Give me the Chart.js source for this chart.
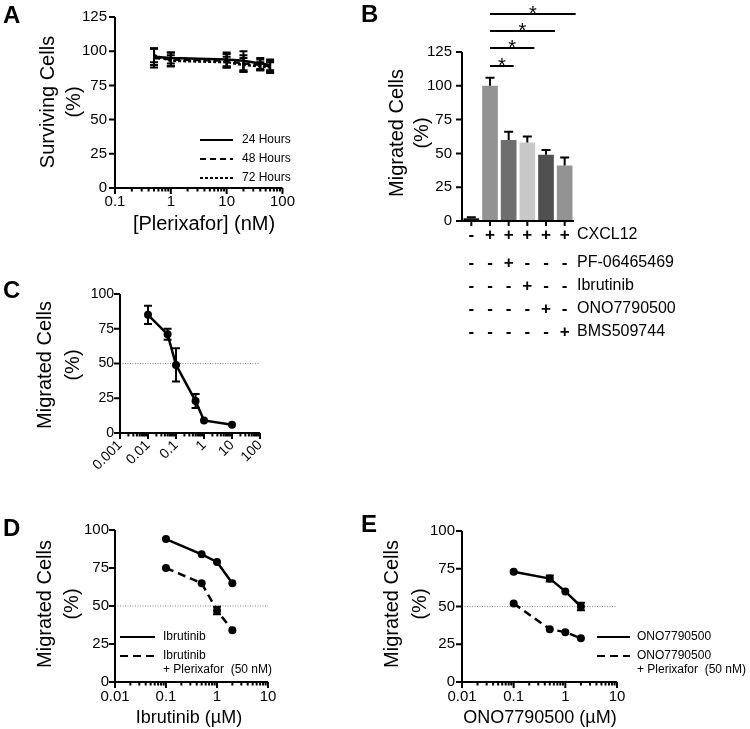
<!DOCTYPE html>
<html>
<head>
<meta charset="utf-8">
<script src="https://cdn.jsdelivr.net/npm/chart.js@4.4.1/dist/chart.umd.min.js"></script>
<style>
  body { margin: 0; background: #fff; }
  #fig { position: relative; width: 750px; height: 729px; background: #fff; overflow: hidden; }
  #fig canvas { position: absolute; }
  .tag { position: absolute; font: bold 24px 'Liberation Sans', Arial, sans-serif; line-height: 24px; color: #000; }
</style>
</head>
<body>
<div id="fig">
  <canvas id="chartA" width="300" height="245" style="left:0;top:0"></canvas>
  <canvas id="chartB" width="370" height="345" style="left:380px;top:0"></canvas>
  <canvas id="chartC" width="330" height="220" style="left:0;top:270px"></canvas>
  <canvas id="chartD" width="370" height="214" style="left:0;top:515px"></canvas>
  <canvas id="chartE" width="380" height="214" style="left:370px;top:515px"></canvas>
  <div class="tag" style="left:3px;top:3px">A</div>
  <div class="tag" style="left:361px;top:2px">B</div>
  <div class="tag" style="left:3px;top:278px">C</div>
  <div class="tag" style="left:3px;top:516px">D</div>
  <div class="tag" style="left:361px;top:512px">E</div>
</div>
<script>
// A - viability under plerixafor
const plerixaforDose = [0.5, 1, 10, 20, 40, 60];
const survival24 = [96, 95, 94, 93, 91, 90];
const survival24Err = [6, 4, 5, 7, 4, 4];
const survival48 = [95, 94, 93, 91, 90, 89];
const survival48Err = [7, 5, 5, 6, 4, 4];
const survival72 = [97, 93, 92, 90, 89, 88];
const survival72Err = [5, 4, 4, 5, 3, 4];

// B - migration with inhibitors
const migrationGroups = ['none', 'CXCL12', 'PF', 'Ibr', 'ONO', 'BMS'];
const migrationMean = [2, 100, 60, 58, 49, 41];
const migrationErr = [0.8, 6, 6, 4.5, 3.5, 6];
const treatmentNames = ['CXCL12', 'PF-06465469', 'Ibrutinib', 'ONO7790500', 'BMS509744'];
const treatmentSigns = [
  ['-', '+', '+', '+', '+', '+'],
  ['-', '-', '+', '-', '-', '-'],
  ['-', '-', '-', '+', '-', '-'],
  ['-', '-', '-', '-', '+', '-'],
  ['-', '-', '-', '-', '-', '+']
];
const significantPairs = [[1, 2], [1, 3], [1, 4], [1, 5]];

// C - plerixafor dose response
const doseC = [0.01, 0.05, 0.1, 0.5, 1, 10];
const migratedC = [85, 71, 49, 23, 9, 6];
const migratedCErr = [6.5, 4, 12, 5, 0, 0];

// D - ibrutinib +/- plerixafor
const ibrutinibDose = [0.1, 0.5, 1, 2];
const ibrutinibAlone = [94, 84, 79, 65];
const ibrutinibPlx = [75, 65, 47, 34];
const ibrutinibPlxErr = [0, 0, 2.5, 0];

// E - ONO7790500 +/- plerixafor
const onoDose = [0.1, 0.5, 1, 2];
const onoAlone = [73, 68.5, 60, 50];
const onoAloneErr = [0, 2, 0, 2.5];
const onoPlx = [52, 35, 33, 29];

// tick labels
const yTicks125 = [0, 25, 50, 75, 100, 125];
const yTicks100 = [0, 25, 50, 75, 100];
const xLabelsA = [0.1, 1, 10, 100];
const xLabelsC = [0.001, 0.01, 0.1, 1, 10, 100];
const xLabelsDE = [0.01, 0.1, 1, 10];

const FAMILY = "'Liberation Sans', Arial, Helvetica, sans-serif";
Chart.defaults.font.family = FAMILY;
Chart.defaults.color = '#000';

const pts = (xs, ys) => xs.map((x, i) => ({ x, y: ys[i] }));
const isDecade = v => Math.abs(Math.log10(v) - Math.round(Math.log10(v))) < 1e-9;

function logTicks(min, max) {
  const out = [];
  for (let e = Math.round(Math.log10(min)); e < Math.round(Math.log10(max)); e++) {
    for (let k = 1; k < 10; k++) out.push(+(k * Math.pow(10, e)).toPrecision(6));
  }
  out.push(max);
  return out;
}

function xLog(labels, area, h, size, pad, rot) {
  const min = labels[0], max = labels[labels.length - 1];
  return {
    type: 'logarithmic', min, max,
    grid: { display: false, drawTicks: false }, border: { display: false },
    ticks: {
      autoSkip: false, minRotation: rot || 0, maxRotation: rot || 0, padding: pad,
      font: { size }, color: '#000',
      callback: v => labels.some(l => Math.abs(l - v) / l < 1e-6) ? String(v) : ''
    },
    afterBuildTicks: s => { s.ticks = logTicks(min, max).map(value => ({ value })); },
    afterFit: s => { s.height = h - area.bottom; }
  };
}

function yLin(ticks, area, size, pad) {
  return {
    type: 'linear', min: ticks[0], max: ticks[ticks.length - 1],
    grid: { display: false, drawTicks: false }, border: { display: false },
    ticks: { padding: pad, font: { size }, color: '#000', autoSkip: false },
    afterBuildTicks: s => { s.ticks = ticks.map(value => ({ value })); },
    afterFit: s => { s.width = area.left; }
  };
}

// axes, error bars, titles, legends, table
const figure = {
  id: 'figure',
  beforeDatasetsDraw(chart, args, o) {
    if (o.refLine == null) return;
    const { ctx, chartArea: a, scales: { y } } = chart;
    const py = y.getPixelForValue(o.refLine);
    ctx.save();
    ctx.strokeStyle = '#8a8a8a'; ctx.lineWidth = 1; ctx.setLineDash([1, 1.5]);
    ctx.beginPath(); ctx.moveTo(a.left, py); ctx.lineTo(a.right, py); ctx.stroke();
    ctx.restore();
  },
  afterDatasetsDraw(chart, args, o) {
    const { ctx, chartArea: a, scales: { x, y } } = chart;
    ctx.save();
    ctx.strokeStyle = '#000'; ctx.lineWidth = 2;
    chart.data.datasets.forEach((ds, i) => {
      if (!ds.errors) return;
      const meta = chart.getDatasetMeta(i);
      meta.data.forEach((el, j) => {
        const e = ds.errors[j];
        if (!e) return;
        const v = meta.controller.getParsed(j).y;
        const top = y.getPixelForValue(v + e);
        const bot = y.getPixelForValue(ds.errorUpOnly ? v : v - e);
        const w = ds.capHalf || 4;
        ctx.beginPath();
        ctx.moveTo(el.x, top); ctx.lineTo(el.x, bot);
        ctx.moveTo(el.x - w, top); ctx.lineTo(el.x + w, top);
        if (!ds.errorUpOnly) { ctx.moveTo(el.x - w, bot); ctx.lineTo(el.x + w, bot); }
        ctx.stroke();
      });
    });
    // axis lines
    ctx.beginPath();
    ctx.moveTo(a.left, a.top); ctx.lineTo(a.left, a.bottom); ctx.lineTo(a.right, a.bottom);
    ctx.stroke();
    // y ticks
    ctx.beginPath();
    y.ticks.forEach(t => {
      const py = y.getPixelForValue(t.value);
      ctx.moveTo(a.left - 6, py); ctx.lineTo(a.left, py);
    });
    // x ticks
    x.ticks.forEach((t, i) => {
      let px, len;
      if (o.category) { px = x.getPixelForValue(i); len = 5; }
      else { px = x.getPixelForValue(t.value); len = isDecade(t.value) ? 6 : 3.5; }
      ctx.moveTo(px, a.bottom); ctx.lineTo(px, a.bottom + len);
    });
    ctx.stroke();
    ctx.restore();
  },
  afterDraw(chart, args, o) {
    const { ctx, scales: { x, y } } = chart;
    ctx.save();
    ctx.fillStyle = '#000'; ctx.strokeStyle = '#000';
    if (o.yTitle) {
      ctx.font = `${o.yTitle.size}px ${FAMILY}`;
      ctx.textAlign = 'center'; ctx.textBaseline = 'middle';
      o.yTitle.lines.forEach((t, k) => {
        ctx.save(); ctx.translate(o.yTitle.x[k], o.yTitle.y); ctx.rotate(-Math.PI / 2);
        ctx.fillText(t, 0, 0); ctx.restore();
      });
    }
    if (o.xTitle) {
      ctx.font = `${o.xTitle.size}px ${FAMILY}`;
      ctx.textAlign = 'center'; ctx.textBaseline = 'middle';
      ctx.fillText(o.xTitle.text, o.xTitle.x, o.xTitle.y);
    }
    if (o.legend) {
      const L = o.legend;
      ctx.font = `12px ${FAMILY}`; ctx.textAlign = 'left'; ctx.textBaseline = 'middle';
      chart.data.datasets.forEach((ds, i) => {
        const yy = L.y[i];
        ctx.lineWidth = 2; ctx.setLineDash(L.dash[i]);
        ctx.beginPath(); ctx.moveTo(L.x0, yy); ctx.lineTo(L.x1, yy); ctx.stroke();
        ctx.setLineDash([]);
        String(ds.label).split('\n').forEach((t, k) => ctx.fillText(t, L.tx, yy + k * 14));
      });
    }
    if (o.table) {
      treatmentSigns.forEach((row, r) => {
        const yy = o.table.rows[r];
        ctx.font = `bold 17px ${FAMILY}`; ctx.textAlign = 'center'; ctx.textBaseline = 'middle';
        row.forEach((s, c) => ctx.fillText(s, x.getPixelForValue(c), yy));
        ctx.font = `16px ${FAMILY}`; ctx.textAlign = 'left';
        ctx.fillText(treatmentNames[r], o.table.labelX, yy);
      });
    }
    if (o.stars) {
      ctx.lineWidth = 2; ctx.textAlign = 'center'; ctx.textBaseline = 'alphabetic';
      ctx.font = `20px ${FAMILY}`;
      significantPairs.forEach(([p, q], k) => {
        const py = Math.round(y.getPixelForValue(o.stars.base + k * o.stars.step));
        const x0 = x.getPixelForValue(p), x1 = x.getPixelForValue(q) + 5 + k * 2;
        ctx.beginPath(); ctx.moveTo(x0, py); ctx.lineTo(x1, py); ctx.stroke();
        ctx.fillText('*', (x0 + x1) / 2, py + 6);
      });
    }
    ctx.restore();
  }
};

function padFor(area, w) {
  return { top: area.top, right: w - area.right, left: 0, bottom: 0 };
}

function baseOptions(area, w, figOpts, scales) {
  return {
    responsive: false, animation: false,
    layout: { padding: padFor(area, w) },
    plugins: { legend: { display: false }, tooltip: { enabled: false }, figure: figOpts },
    scales
  };
}

const lineDs = (label, data, dash, extra) => Object.assign({
  label, data, borderColor: '#000', backgroundColor: '#000', borderWidth: 2.5,
  borderDash: dash, pointRadius: 4, pointBorderWidth: 0, tension: 0, fill: false
}, extra || {});

// Panel A
const areaA = { left: 115, top: 16, right: 285, bottom: 188 };
new Chart(document.getElementById('chartA'), {
  type: 'line',
  data: {
    datasets: [
      lineDs('24 Hours', pts(plerixaforDose, survival24), [], { pointRadius: 0, errors: survival24Err }),
      lineDs('48 Hours', pts(plerixaforDose, survival48), [6, 4], { pointRadius: 0, errors: survival48Err }),
      lineDs('72 Hours', pts(plerixaforDose, survival72), [3, 2], { pointRadius: 0, errors: survival72Err })
    ]
  },
  options: baseOptions(areaA, 300, {
    yTitle: { lines: ['Surviving Cells', '(%)'], x: [48, 74], y: 102, size: 20 },
    xTitle: { text: '[Plerixafor] (nM)', x: 204, y: 224, size: 20 },
    legend: { x0: 200, x1: 233, tx: 242, y: [140, 159, 178], dash: [[], [6, 4], [3, 2]] }
  }, {
    x: xLog(xLabelsA, areaA, 245, 15, 5),
    y: yLin(yTicks125, areaA, 15, 8)
  }),
  plugins: [figure]
});

// Panel B
const areaB = { left: 82, top: 52, right: 194, bottom: 221 };
new Chart(document.getElementById('chartB'), {
  type: 'bar',
  data: {
    labels: migrationGroups,
    datasets: [{
      data: migrationMean, errors: migrationErr, errorUpOnly: true, capHalf: 4.5,
      backgroundColor: ['#111111', '#939393', '#6e6e6e', '#c8c8c8', '#505050', '#939393'],
      borderWidth: 0, categoryPercentage: 0.84, barPercentage: 1.0
    }]
  },
  options: baseOptions(areaB, 370, {
    category: true,
    yTitle: { lines: ['Migrated Cells', '(%)'], x: [17, 42], y: 133, size: 20 },
    table: { rows: [235, 263, 286, 309, 332], labelX: 197 },
    stars: { base: 115, step: 12.8 }
  }, {
    x: {
      type: 'category', grid: { display: false, drawTicks: false }, border: { display: false },
      ticks: { display: false },
      afterFit: s => { s.height = 345 - areaB.bottom; }
    },
    y: yLin(yTicks125, areaB, 15, 10)
  }),
  plugins: [figure]
});

// Panel C
const areaC = { left: 120, top: 24, right: 260, bottom: 163 };
new Chart(document.getElementById('chartC'), {
  type: 'line',
  data: {
    datasets: [lineDs('Plerixafor', pts(doseC, migratedC), [], { errors: migratedCErr })]
  },
  options: baseOptions(areaC, 330, {
    refLine: 50,
    yTitle: { lines: ['Migrated Cells', '(%)'], x: [45, 73], y: 95, size: 20 }
  }, {
    x: xLog(xLabelsC, areaC, 220, 14, 4, 45),
    y: yLin(yTicks100, areaC, 14, 6)
  }),
  plugins: [figure]
});

// Panel D
const areaD = { left: 115, top: 12, right: 268, bottom: 167 };
new Chart(document.getElementById('chartD'), {
  type: 'line',
  data: {
    datasets: [
      lineDs('Ibrutinib', pts(ibrutinibDose, ibrutinibAlone), []),
      lineDs('Ibrutinib\n+ Plerixafor  (50 nM)', pts(ibrutinibDose, ibrutinibPlx), [8, 5], { errors: ibrutinibPlxErr })
    ]
  },
  options: baseOptions(areaD, 370, {
    refLine: 50,
    yTitle: { lines: ['Migrated Cells', '(%)'], x: [45, 72], y: 89, size: 20 },
    xTitle: { text: 'Ibrutinib (\u00b5M)', x: 189, y: 203, size: 18 },
    legend: { x0: 120, x1: 155, tx: 163, y: [122, 141], dash: [[], [8, 5]] }
  }, {
    x: xLog(xLabelsDE, areaD, 214, 15, 6),
    y: yLin(yTicks100, areaD, 15, 6)
  }),
  plugins: [figure]
});

// Panel E
const areaE = { left: 92, top: 12, right: 247, bottom: 167 };
new Chart(document.getElementById('chartE'), {
  type: 'line',
  data: {
    datasets: [
      lineDs('ONO7790500', pts(onoDose, onoAlone), [], { errors: onoAloneErr }),
      lineDs('ONO7790500\n+ Plerixafor  (50 nM)', pts(onoDose, onoPlx), [8, 5])
    ]
  },
  options: baseOptions(areaE, 380, {
    refLine: 50,
    yTitle: { lines: ['Migrated Cells', '(%)'], x: [22, 50], y: 89, size: 20 },
    xTitle: { text: 'ONO7790500 (\u00b5M)', x: 170, y: 203, size: 18 },
    legend: { x0: 227, x1: 260, tx: 267, y: [122, 141], dash: [[], [8, 5]] }
  }, {
    x: xLog(xLabelsDE, areaE, 214, 15, 6),
    y: yLin(yTicks100, areaE, 15, 7)
  }),
  plugins: [figure]
});
</script>
</body>
</html>
